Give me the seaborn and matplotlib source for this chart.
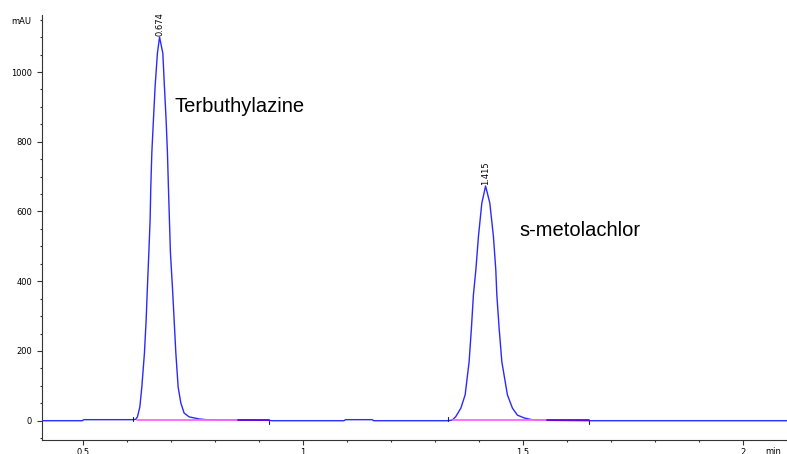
import matplotlib
matplotlib.use("Agg")
import matplotlib.pyplot as plt
from matplotlib.ticker import MultipleLocator, FuncFormatter
import seaborn as sns

# Trace (time in min, signal in mAU)
trace_time = [0.407, 0.498, 0.502, 0.607, 0.6136,
              0.620, 0.6237, 0.6291, 0.6337, 0.6396, 0.6435, 0.6464, 0.6496, 0.6525,
              0.6541, 0.6564, 0.6600, 0.6639, 0.6691, 0.674,
              0.6814, 0.6850, 0.6889, 0.6919, 0.6941, 0.6964, 0.6987, 0.7032, 0.7071,
              0.7110, 0.7162, 0.7223, 0.7298, 0.7412, 0.7639, 0.78, 0.85, 0.923,
              0.93, 1.093, 1.097, 1.157, 1.161, 1.33,
              1.3396, 1.3473, 1.3587, 1.3685, 1.3775, 1.3828, 1.3873, 1.3928, 1.3987,
              1.4064, 1.415,
              1.4246, 1.4328, 1.4382, 1.4405, 1.4457, 1.4519, 1.4646, 1.4760, 1.4873,
              1.5025, 1.52, 1.56, 1.65, 2.1]
trace_mau = [0, 0, 3, 3, 3,
             4, 11, 39, 97, 194, 289, 384, 481, 576,
             671, 768, 862, 959, 1054, 1100,
             1054, 959, 862, 768, 671, 576, 481, 384, 289,
             194, 97, 51, 22, 11, 5, 3, 2, 1,
             0, 0, 3, 3, 0, 0,
             2, 12, 36, 74, 169, 266, 361, 432, 528,
             624, 673,
             624, 528, 432, 361, 266, 169, 74, 36, 16,
             8, 3, 1, 0, 0]

# integration baselines
base_start = [0.6227, 1.3409]
base_split = [0.852, 1.5545]
base_end = [0.9227, 1.65]
base_level = [2, 2]
peak_start_mark = [0.6136, 1.3295]

# peak annotations
peak_rt = [0.674, 1.415]
peak_height = [1100, 673]
peak_labels = ["0.674", "1.415"]
compound_names = ["Terbuthylazine", "s-metolachlor"]
compound_x = [0.708, 1.491]
compound_y = [886, 531]

sns.set_style("white")
plt.rcParams['font.family'] = ['DejaVu Sans']
plt.rcParams['text.color'] = 'black'
plt.rcParams['xtick.color'] = '#333333'
plt.rcParams['ytick.color'] = '#333333'
plt.rcParams['xtick.labelcolor'] = 'black'
plt.rcParams['ytick.labelcolor'] = 'black'

fig = plt.figure(figsize=(7.87, 4.54), dpi=100)
ax = fig.add_axes([42 / 787, 14 / 454, 745 / 787, 425 / 454])

sns.lineplot(x=trace_time, y=trace_mau, ax=ax, color="#2a2aff", linewidth=1,
             estimator=None, sort=False, zorder=3)

# integration baseline lines (drawn over the trace)
for s, m, e, lv in zip(base_start, base_split, base_end, base_level):
    ax.plot([s, m], [lv, lv], color="#ff66ff", lw=1.3, zorder=4)
    ax.plot([m, e], [lv - 0.5, lv - 0.5], color="#7000e0", lw=1.3, zorder=4)
    ax.plot([e, e], [0, -9], color="#222222", lw=0.8, zorder=5)
for s in peak_start_mark:
    ax.plot([s, s], [0, 12], color="#222222", lw=0.8, zorder=5)

for rt, h, lab in zip(peak_rt, peak_height, peak_labels):
    ax.text(rt, h + 3, lab, rotation=90, ha="center", va="bottom", fontsize=6,
            color="black")

for name, x, y in zip(compound_names, compound_x, compound_y):
    ax.text(x, y, name, ha="left", va="baseline", fontsize=14.5,
            family="Liberation Sans", color="black")

ax.set_xlim(0.4068, 2.1)
ax.set_ylim(-55.3, 1163.5)

for side in ["top", "right"]:
    ax.spines[side].set_visible(False)
for side in ["left", "bottom"]:
    ax.spines[side].set_color("#333333")
    ax.spines[side].set_linewidth(0.8)

ax.xaxis.set_major_locator(MultipleLocator(0.5))
ax.xaxis.set_minor_locator(MultipleLocator(0.1))
ax.yaxis.set_major_locator(MultipleLocator(200))
ax.yaxis.set_minor_locator(MultipleLocator(50))
ax.xaxis.set_major_formatter(FuncFormatter(lambda v, p: "%g" % v))
ax.yaxis.set_major_formatter(FuncFormatter(lambda v, p: "%d" % v))

ax.tick_params(axis="both", which="major", direction="out", length=3.6, width=0.8,
               color="#333333", labelsize=6, labelcolor="black", bottom=True, left=True)
ax.tick_params(axis="both", which="minor", direction="out", length=1.6, width=0.8,
               color="#333333", bottom=True, left=True)
ax.tick_params(axis="y", which="major", pad=3.6)
ax.tick_params(axis="x", which="major", pad=2.2)
ax.set_xlabel("")
ax.set_ylabel("")

fig.text(11 / 787, 1 - 21 / 454, "mAU", fontsize=6, va="center", ha="left")
fig.text(765 / 787, 1 - 447 / 454, "min", fontsize=6, va="top", ha="left")

fig.savefig("out.png", dpi=100)
